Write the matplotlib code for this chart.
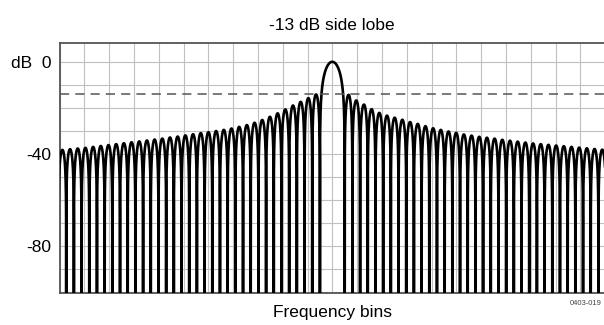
import numpy as np
import matplotlib
matplotlib.use('Agg')
import matplotlib.pyplot as plt

plt.rcParams['font.family'] = ['Liberation Sans', 'DejaVu Sans']

# peak level of each lobe in dB (centre outwards)
main_peak_db = 0.0
main_half_width = 0.5
side_lobe_width = 0.31
left_peaks_db = [-14.2, -15.8, -17.4, -19.0, -20.7, -22.4, -23.9, -25.3, -26.5, -27.5,
                 -28.3, -29.0, -29.6, -30.1, -30.6, -31.0, -31.5, -32.0, -32.5, -32.9,
                 -33.4, -33.8, -34.2, -34.6, -35.0, -35.4, -35.8, -36.2, -36.6, -37.0,
                 -37.4, -37.7, -38.0, -38.3]
right_peaks_db = [-14.4, -16.8, -18.6, -20.6, -22.2, -23.4, -24.3, -25.2, -26.2, -27.0,
                  -28.0, -28.9, -29.6, -30.3, -30.9, -31.6, -32.1, -32.6, -33.0, -33.4,
                  -33.9, -34.3, -34.7, -35.1, -35.5, -35.8, -36.1, -36.4, -36.7, -37.0,
                  -37.3, -37.6, -37.9, -38.2]
side_lobe_level_db = -14.2

y_ticks = [-80, -40, 0]
y_tick_labels = ['-80', '-40', 'dB  0']


def lobe(x0, x1, peak_db):
    # one arch between two nulls, drawn in dB
    t = np.linspace(0, 1, 120)
    amp = 10 ** (peak_db / 20.0) * np.abs(np.sin(np.pi * t))
    db = 20 * np.log10(np.maximum(amp, 1e-7))
    return x0 + (x1 - x0) * t, db


xs = []
ys = []
# left side, from the outside in
for k in range(len(left_peaks_db) - 1, -1, -1):
    x1 = -main_half_width - side_lobe_width * k
    x0 = x1 - side_lobe_width
    x, y = lobe(x0, x1, left_peaks_db[k])
    xs.append(x)
    ys.append(y)
x, y = lobe(-main_half_width, main_half_width, main_peak_db)
xs.append(x)
ys.append(y)
for k in range(len(right_peaks_db)):
    x0 = main_half_width + side_lobe_width * k
    x, y = lobe(x0, x0 + side_lobe_width, right_peaks_db[k])
    xs.append(x)
    ys.append(y)
xs = np.concatenate(xs)
ys = np.concatenate(ys)

fig = plt.figure(figsize=(6.04, 3.25), dpi=100)
ax = fig.add_axes([59.5 / 604, 32.3 / 325, 545.6 / 604, 250 / 325])

ax.plot(xs, ys, color='black', lw=1.9, solid_joinstyle='round', zorder=3)
ax.axhline(side_lobe_level_db, color='#555555', lw=1.1, ls=(0, (6, 4)), zorder=4)

ax.set_xlim(-11, 11)
ax.set_ylim(-100.4, 8.3)

ax.set_xticks(np.arange(-11, 12, 1))
ax.set_xticklabels([])
ax.set_yticks(np.arange(-100, 1, 10), minor=True)
ax.set_yticks(y_ticks)
ax.set_yticklabels(y_tick_labels, fontsize=12.5)
ax.tick_params(which='both', length=0, pad=6)
ax.tick_params(axis='x', pad=0)
ax.grid(True, which='both', color='#c0c0c0', lw=0.8, zorder=0)

for s in ax.spines.values():
    s.set_color('#555555')
    s.set_linewidth(1.3)

ax.set_title('-13 dB side lobe', fontsize=12.5, pad=9.5)
ax.set_xlabel('Frequency bins', fontsize=12.5, labelpad=9)
fig.text(570 / 604, 1 - 305 / 325, '0403-019', fontsize=5.5, color='#444444')

fig.savefig('out.png', dpi=100)
